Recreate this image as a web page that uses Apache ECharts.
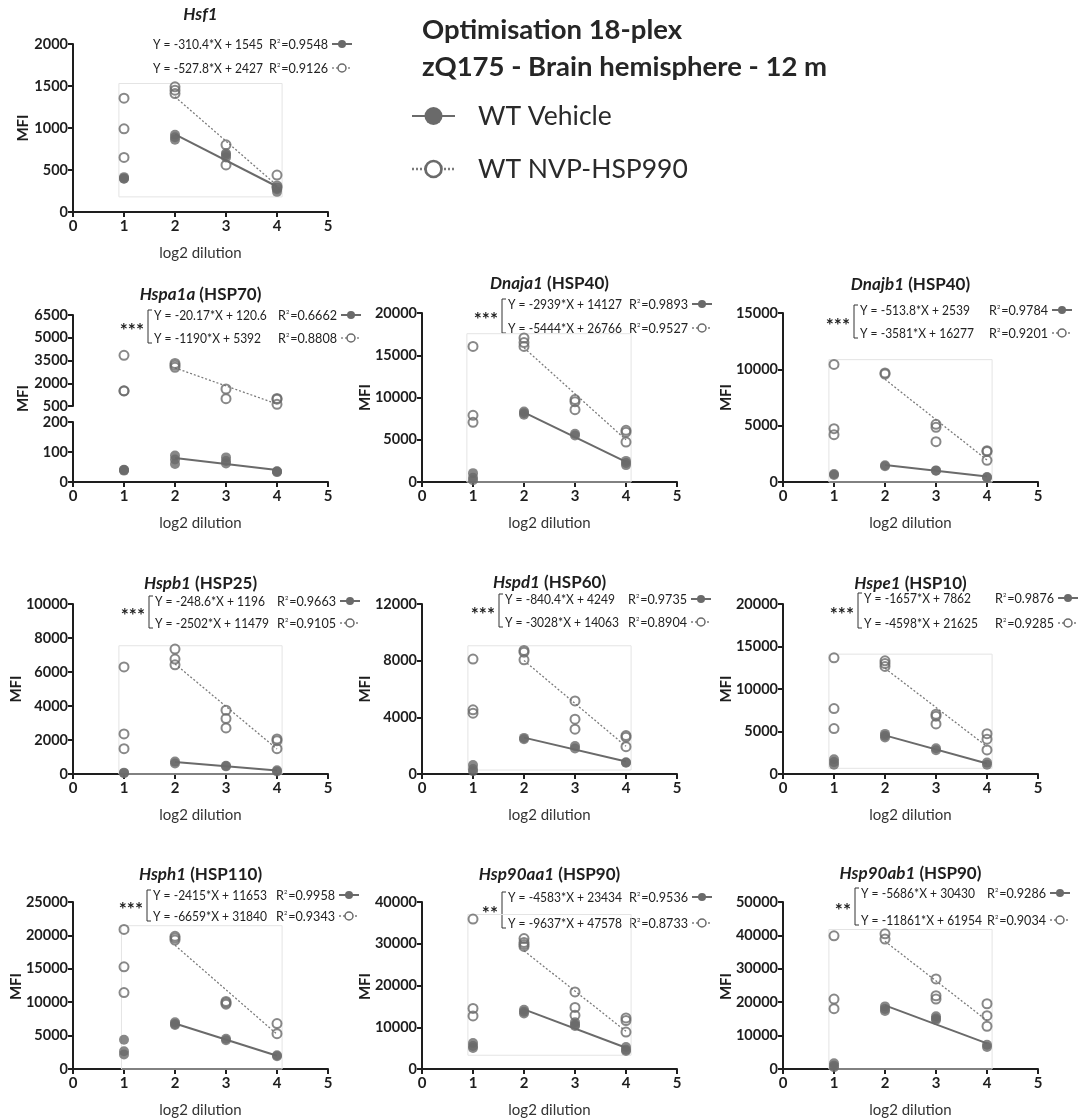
<!DOCTYPE html>
<html>
<head>
<meta charset="utf-8">
<script src="https://cdn.jsdelivr.net/npm/echarts@6/dist/echarts.min.js"></script>
<style>
  html, body { margin: 0; padding: 0; background: #fff; }
  #chart { width: 1078px; height: 1119px; }
</style>
</head>
<body>
<div id="chart"></div>
<script>
// Dilution steps on the x axis (log2 dilution)
const dilutions = [1, 2, 3, 4];
const xTicks = [0, 1, 2, 3, 4, 5];

// Replicate MFI readings; one inner array per dilution step 1..4
// Fits: [slope, intercept, R²] for [WT Vehicle, WT NVP-HSP990], fitted over dilutions 2..4
const hsf1Vehicle = [[400, 415, 395], [920, 890, 860], [700, 680, 650], [290, 270, 240]];
const hsf1Nvp = [[1355, 990, 650], [1490, 1450, 1410], [800, 560], [440, 310, 290]];
const hsf1Fit = [[-310.4, 1545, 0.9548], [-527.8, 2427, 0.9126]];

const hspa1aVehicle = [[41, 38, 40], [88, 75, 60], [82, 70, 62], [36, 33, 35]];
const hspa1aNvp = [[3840, 1490, 1500], [3310, 3180, 3050], [1620, 980], [1000, 950, 610]];
const hspa1aFit = [[-20.17, 120.6, 0.6662], [-1190, 5392, 0.8808]];

const dnaja1Vehicle = [[1050, 500, 200], [8350, 8150, 7950], [5700, 5500], [2500, 2250, 2000]];
const dnaja1Nvp = [[16050, 7890, 7060], [17040, 16500, 16050], [9750, 9500, 8560], [6110, 5900, 4730]];
const dnaja1Fit = [[-2939, 14127, 0.9893], [-5444, 26766, 0.9527]];

const dnajb1Vehicle = [[710, 620], [1480, 1400], [1030, 1000], [450, 400]];
const dnajb1Nvp = [[10440, 4730, 4200], [9680, 9580], [5120, 4850, 3580], [2780, 2700, 1920]];
const dnajb1Fit = [[-513.8, 2539, 0.9784], [-3581, 16277, 0.9201]];

const hspb1Vehicle = [[80, 50], [730, 620], [490, 450], [220, 150]];
const hspb1Nvp = [[6300, 2360, 1490], [7350, 6760, 6420], [3750, 3260, 2710], [2060, 1960, 1490]];
const hspb1Fit = [[-248.6, 1196, 0.9663], [-2502, 11479, 0.9105]];

const hspd1Vehicle = [[640, 350, 200], [2550, 2450], [1980, 1800], [830, 800]];
const hspd1Nvp = [[8110, 4530, 4290], [8720, 8600, 8060], [5160, 3870, 3160], [2710, 2600, 1930]];
const hspd1Fit = [[-840.4, 4249, 0.9735], [-3028, 14063, 0.8904]];

const hspe1Vehicle = [[1730, 1400, 1100], [4720, 4500, 4300], [3030, 2800], [1340, 1100]];
const hspe1Nvp = [[13670, 7700, 5340], [13320, 13000, 12650], [7030, 6800, 5890], [4750, 4090, 2830]];
const hspe1Fit = [[-1657, 7862, 0.9876], [-4598, 21625, 0.9285]];

const hsph1Vehicle = [[4390, 2660, 2170], [7000, 6750, 6600], [4540, 4300], [2070, 1900]];
const hsph1Nvp = [[20900, 15290, 11440], [19870, 19600, 19300], [10110, 9900, 9700], [6800, 5280]];
const hsph1Fit = [[-2415, 11653, 0.9958], [-6659, 31840, 0.9343]];

const hsp90aa1Vehicle = [[6230, 5500, 5050], [14200, 13700, 13300], [11200, 10600, 10300], [5290, 4600, 4300]];
const hsp90aa1Nvp = [[35900, 14520, 12700], [31240, 30300, 29800, 29350], [18460, 14750, 12860], [12230, 11600, 8840]];
const hsp90aa1Fit = [[-4583, 23434, 0.9536], [-9637, 47578, 0.8733]];

const hsp90ab1Vehicle = [[1690, 1000, 500], [18750, 18000, 17400], [15770, 15100, 14700], [7240, 6600]];
const hsp90ab1Nvp = [[39880, 20930, 18060], [40480, 38890], [26980, 21930, 20930], [19540, 15970, 12800]];
const hsp90ab1Fit = [[-5686, 30430, 0.9286], [-11861, 61954, 0.9034]];

// Y axis ranges [min, max, step]
const hsf1Range = [0, 2000, 500];
const hspa1aLowRange = [0, 200, 100];
const hspa1aHighRange = [500, 6500, 1500];
const dnaja1Range = [0, 20000, 5000];
const dnajb1Range = [0, 15000, 5000];
const hspb1Range = [0, 10000, 2000];
const hspd1Range = [0, 12000, 4000];
const hspe1Range = [0, 20000, 5000];
const hsph1Range = [0, 25000, 5000];
const hsp90aa1Range = [0, 40000, 10000];
const hsp90ab1Range = [0, 50000, 10000];

// Faint inset frames in data units [x0, x1, y0, y1]
const insetFrames = [
  [0.9, 4.1, 180, 1530], null, [0.88, 4.1, 0, 17550], [0.9, 4.1, 0, 10860],
  [0.9, 4.1, 0, 7545], [0.9, 4.1, 280, 9050], [0.9, 4.1, 670, 14100],
  [0.95, 4.1, 0, 21450], [0.9, 4.1, 3300, 37000], [0.9, 4.1, 0, 41770]
];

const panels = [
  { gene: 'Hsf1', protein: '', vehicle: hsf1Vehicle, nvp: hsf1Nvp, fit: hsf1Fit, stars: '', range: hsf1Range },
  { gene: 'Hspa1a', protein: 'HSP70', vehicle: hspa1aVehicle, nvp: hspa1aNvp, fit: hspa1aFit, stars: '***', range: hspa1aLowRange, upper: hspa1aHighRange },
  { gene: 'Dnaja1', protein: 'HSP40', vehicle: dnaja1Vehicle, nvp: dnaja1Nvp, fit: dnaja1Fit, stars: '***', range: dnaja1Range },
  { gene: 'Dnajb1', protein: 'HSP40', vehicle: dnajb1Vehicle, nvp: dnajb1Nvp, fit: dnajb1Fit, stars: '***', range: dnajb1Range },
  { gene: 'Hspb1', protein: 'HSP25', vehicle: hspb1Vehicle, nvp: hspb1Nvp, fit: hspb1Fit, stars: '***', range: hspb1Range },
  { gene: 'Hspd1', protein: 'HSP60', vehicle: hspd1Vehicle, nvp: hspd1Nvp, fit: hspd1Fit, stars: '***', range: hspd1Range },
  { gene: 'Hspe1', protein: 'HSP10', vehicle: hspe1Vehicle, nvp: hspe1Nvp, fit: hspe1Fit, stars: '***', range: hspe1Range },
  { gene: 'Hsph1', protein: 'HSP110', vehicle: hsph1Vehicle, nvp: hsph1Nvp, fit: hsph1Fit, stars: '***', range: hsph1Range },
  { gene: 'Hsp90aa1', protein: 'HSP90', vehicle: hsp90aa1Vehicle, nvp: hsp90aa1Nvp, fit: hsp90aa1Fit, stars: '**', range: hsp90aa1Range },
  { gene: 'Hsp90ab1', protein: 'HSP90', vehicle: hsp90ab1Vehicle, nvp: hsp90ab1Nvp, fit: hsp90ab1Fit, stars: '**', range: hsp90ab1Range }
];

// Page layout (pixels)
const COLS = [73, 422, 783];
const ROWS = [[44, 212], [313, 482], [604, 774], [902, 1071]];
const PLOT_W = 255;
const layout = [
  { row: 0, col: 0, eqDx: 80, eqDy: 0, gap: 24, r2Dx: 196, titleDy: -29 },
  { row: 1, col: 0, eqDx: 81, eqDy: 0, gap: 23, r2Dx: 205, titleDy: -20, topY: 315, breakY: [406, 422] },
  { row: 1, col: 1, eqDx: 86, eqDy: -9, gap: 24, r2Dx: 207, titleDy: -29 },
  { row: 1, col: 2, eqDx: 77, eqDy: -3, gap: 23, r2Dx: 206, titleDy: -28 },
  { row: 2, col: 0, eqDx: 82, eqDy: -3, gap: 22, r2Dx: 204, titleDy: -20 },
  { row: 2, col: 1, eqDx: 83, eqDy: -5, gap: 23, r2Dx: 206, titleDy: -21 },
  { row: 2, col: 2, eqDx: 81, eqDy: -6, gap: 25, r2Dx: 212, titleDy: -20 },
  { row: 3, col: 0, eqDx: 80, eqDy: -7, gap: 21, r2Dx: 203, titleDy: -27 },
  { row: 3, col: 1, eqDx: 86, eqDy: -5, gap: 26, r2Dx: 207, titleDy: -27 },
  { row: 3, col: 2, eqDx: 78, eqDy: -9, gap: 27, r2Dx: 204, titleDy: -28 }
];

const FONT = 'Lato, "Open Sans", "DejaVu Sans", sans-serif';
const INK = '#1e1e1e';
const GREY = '#6a6a6a';
const EQ_SQUEEZE = 0.86;   // horizontal squeeze for the equation text
const R2_SQUEEZE = 0.9;

const grids = [], xAxes = [], yAxes = [], series = [], graphics = [];

function toPoints(groups) {
  const pts = [];
  groups.forEach((vals, i) => vals.forEach(v => pts.push([dilutions[i], v])));
  return pts;
}

function fitLine(f) {
  return [2, 4].map(x => [x, f[0] * x + f[1]]);
}

function addGrid(left, top, height, range, showX) {
  const idx = grids.length;
  grids.push({ left: left, top: top, width: PLOT_W, height: height, containLabel: false });
  xAxes.push({
    gridIndex: idx, type: 'value', min: xTicks[0], max: xTicks[xTicks.length - 1], interval: 1,
    show: showX,
    axisLine: { show: true, onZero: false, lineStyle: { color: INK, width: 2 } },
    axisTick: { show: true, length: 5, lineStyle: { color: INK, width: 2 } },
    axisLabel: { fontFamily: FONT, fontWeight: 'bold', fontSize: 15, color: INK, margin: 7 },
    splitLine: { show: false },
    name: showX ? 'log2 dilution' : '', nameLocation: 'middle', nameGap: 34,
    nameTextStyle: { fontFamily: FONT, fontSize: 15, color: '#333' }
  });
  yAxes.push({
    gridIndex: idx, type: 'value', min: range[0], max: range[1], interval: range[2],
    axisLine: { show: true, onZero: false, lineStyle: { color: INK, width: 2 } },
    axisTick: { show: true, length: 5, lineStyle: { color: INK, width: 2 } },
    axisLabel: {
      fontFamily: FONT, fontWeight: 'bold', fontSize: 14.5, color: INK, margin: 5,
      showMinLabel: true, showMaxLabel: true, formatter: v => String(v)
    },
    splitLine: { show: false }
  });
  return idx;
}

function frameArea(fr) {
  if (!fr) return undefined;
  return {
    silent: true,
    itemStyle: { color: 'rgba(0,0,0,0)', borderColor: '#e4e4e4', borderWidth: 1 },
    data: [[{ coord: [fr[0], fr[3]] }, { coord: [fr[1], fr[2]] }]]
  };
}

function addSeries(g, pts, fit, isVehicle, frame) {
  series.push({
    type: 'line', xAxisIndex: g, yAxisIndex: g, data: fitLine(fit), symbol: 'none', silent: true,
    lineStyle: isVehicle ? { color: GREY, width: 2, type: 'solid' } : { color: '#7a7a7a', width: 1.3, type: [2, 2] },
    z: 2
  });
  series.push({
    type: 'scatter', xAxisIndex: g, yAxisIndex: g, data: pts, symbol: 'circle',
    symbolSize: isVehicle ? 10 : 9,
    itemStyle: isVehicle ? { color: GREY } : { color: 'rgba(255,255,255,0)', borderColor: GREY, borderWidth: 2 },
    markArea: frameArea(frame),
    z: 3
  });
}

function legendMarker(x, y, isVehicle, len, r) {
  return {
    type: 'group', children: [
      { type: 'line', shape: { x1: x, y1: y, x2: x + len, y2: y },
        style: isVehicle ? { stroke: GREY, lineWidth: 2 } : { stroke: '#7a7a7a', lineWidth: Math.max(1.3, r / 3), lineDash: [2, 2] } },
      { type: 'circle', shape: { cx: x + len / 2, cy: y, r: r },
        style: isVehicle ? { fill: GREY } : { fill: '#fff', stroke: GREY, lineWidth: Math.max(1.5, r / 3) } }
    ]
  };
}

panels.forEach((p, i) => {
  const L = layout[i];
  const left = COLS[L.col];
  const [rowTop, rowBottom] = ROWS[L.row];
  let top = rowTop;

  if (p.upper) {
    top = L.topY;
    const gHigh = addGrid(left, top, L.breakY[0] - top, p.upper, false);
    const gLow = addGrid(left, L.breakY[1], rowBottom - L.breakY[1], p.range, true);
    addSeries(gLow, toPoints(p.vehicle), p.fit[0], true, null);
    addSeries(gHigh, toPoints(p.nvp), p.fit[1], false, null);
  } else {
    const g = addGrid(left, top, rowBottom - top, p.range, true);
    addSeries(g, toPoints(p.nvp), p.fit[1], false, insetFrames[i]);
    addSeries(g, toPoints(p.vehicle), p.fit[0], true, null);
  }
  const midY = (top + rowBottom) / 2;

  // y axis name
  const digits = String(p.upper ? p.upper[1] : p.range[1]).length;
  graphics.push({
    type: 'text', x: left - (digits >= 5 ? 57 : 50), y: midY, rotation: Math.PI / 2,
    style: { text: 'MFI', font: 'bold 15px ' + FONT, fill: INK, textAlign: 'center', textVerticalAlign: 'middle' }
  });

  // panel title: italic gene symbol, protein in parentheses
  const titleText = p.protein ? '{i|' + p.gene + '}{b| (' + p.protein + ')}' : '{i|' + p.gene + '}';
  graphics.push({
    type: 'text', x: left + PLOT_W / 2, y: top + L.titleDy,
    style: {
      text: titleText, textAlign: 'center', textVerticalAlign: 'middle',
      rich: {
        i: { fontFamily: FONT, fontSize: 17, fontWeight: 'bold', fontStyle: 'italic', fill: INK, color: INK },
        b: { fontFamily: FONT, fontSize: 17, fontWeight: 'bold', fill: INK, color: INK }
      }
    }
  });

  // regression equations with R² and series keys
  const y1 = top + L.eqDy;
  const y2 = y1 + L.gap;
  [y1, y2].forEach((yy, k) => {
    const f = p.fit[k];
    graphics.push({
      type: 'text', x: left + L.eqDx, y: yy, scaleX: EQ_SQUEEZE,
      style: { text: 'Y = ' + f[0] + '*X + ' + f[1], font: '14px ' + FONT, fill: '#222', textAlign: 'left', textVerticalAlign: 'middle' }
    });
    graphics.push({
      type: 'text', x: left + L.r2Dx, y: yy, scaleX: R2_SQUEEZE,
      style: {
        text: '{r|R}{s|2}{r|=' + f[2].toFixed(4) + '}', textAlign: 'left', textVerticalAlign: 'middle',
        rich: {
          r: { fontFamily: FONT, fontSize: 14, fill: '#222', color: '#222' },
          s: { fontFamily: FONT, fontSize: 6.5, fill: '#222', color: '#222', verticalAlign: 'top', padding: [0, 1, 7, 0] }
        }
      }
    });
    graphics.push(legendMarker(left + L.r2Dx + 63, yy, k === 0, 20, 4));
  });

  // significance bracket
  if (p.stars) {
    const bx = left + L.eqDx - 6;
    const by1 = y1 - 5, by2 = y2 + 5;
    graphics.push({
      type: 'polyline', shape: { points: [[bx + 4, by1], [bx, by1], [bx, by2], [bx + 4, by2]] },
      style: { stroke: '#333', lineWidth: 1, fill: null }
    });
    graphics.push({
      type: 'text', x: bx - 4, y: (by1 + by2) / 2 + 4,
      style: { text: p.stars, font: 'bold 19px ' + FONT, fill: INK, textAlign: 'right', textVerticalAlign: 'middle' }
    });
  }
});

// figure heading and legend
graphics.push({
  type: 'text', x: 422, y: 30,
  style: { text: 'Optimisation 18-plex', font: 'bold 27.5px ' + FONT, fill: '#262626', textAlign: 'left', textVerticalAlign: 'middle' }
});
graphics.push({
  type: 'text', x: 422, y: 67,
  style: { text: 'zQ175 - Brain hemisphere - 12 m', font: 'bold 27.5px ' + FONT, fill: '#262626', textAlign: 'left', textVerticalAlign: 'middle' }
});
graphics.push(legendMarker(412, 116, true, 43, 9));
graphics.push({
  type: 'text', x: 478, y: 116,
  style: { text: 'WT Vehicle', font: '26.5px ' + FONT, fill: '#2a2a2a', textAlign: 'left', textVerticalAlign: 'middle' }
});
graphics.push(legendMarker(412, 169, false, 43, 8));
graphics.push({
  type: 'text', x: 478, y: 169,
  style: { text: 'WT NVP-HSP990', font: '26.5px ' + FONT, fill: '#2a2a2a', textAlign: 'left', textVerticalAlign: 'middle' }
});

const chart = echarts.init(document.getElementById('chart'), null, { renderer: 'canvas' });
chart.setOption({
  backgroundColor: '#fff',
  animation: false,
  grid: grids,
  xAxis: xAxes,
  yAxis: yAxes,
  series: series,
  graphic: { elements: graphics }
});
</script>
</body>
</html>
